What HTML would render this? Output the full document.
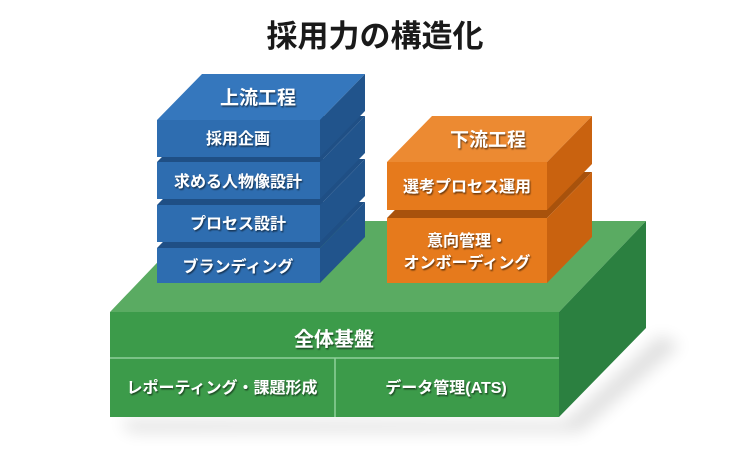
<!DOCTYPE html>
<html><head><meta charset="utf-8"><style>
html,body{margin:0;padding:0;background:#fff;}
svg text{font-family:"Liberation Sans","Noto Sans CJK JP",sans-serif;font-weight:bold;}
.w{fill:#fff;filter:url(#ts);}
</style></head><body>
<svg width="750" height="450" viewBox="0 0 750 450" xmlns="http://www.w3.org/2000/svg">
<defs>
<filter id="ts" x="-10%" y="-30%" width="120%" height="160%"><feDropShadow dx="1" dy="1.5" stdDeviation="0.8" flood-color="#000" flood-opacity="0.55"/></filter>
<filter id="sh" x="-20%" y="-20%" width="140%" height="160%"><feGaussianBlur stdDeviation="8"/></filter>
</defs>
<rect width="750" height="450" fill="#fff"/>
<text x="375" y="47" text-anchor="middle" font-size="31" fill="#1a1a1a">採用力の構造化</text>

<polygon points="120,420 565,422 660,335 680,345 580,432 130,432" fill="#000" opacity="0.12" filter="url(#sh)"/>

<polygon points="110,312 197,221 646,221 559,312" fill="#5aab62"/>
<polygon points="559,312 646,221 646,328 559,417" fill="#2b8040"/>
<rect x="110" y="312" width="449" height="105" fill="#3c9b4a"/>
<line x1="110" y1="358" x2="559" y2="358" stroke="#8fd09a" stroke-width="1.5"/>
<line x1="335" y1="358" x2="335" y2="417" stroke="#8fd09a" stroke-width="1.5"/>
<text class="w" x="334" y="346" text-anchor="middle" font-size="20">全体基盤</text>
<text class="w" x="222" y="393" text-anchor="middle" font-size="16">レポーティング・課題形成</text>
<text class="w" x="446" y="393" text-anchor="middle" font-size="16">データ管理(ATS)</text>

<g>
<polygon points="157,248 202,202 365,202 320,248" fill="#1f4f85"/>
<polygon points="320,248 365,202 365,237 320,283" fill="#21548c"/>
<rect x="157" y="248" width="163" height="35" fill="#2e6db0"/>
<text class="w" x="238" y="272" text-anchor="middle" font-size="16">ブランディング</text>

<polygon points="157,205 202,159 365,159 320,205" fill="#1f4f85"/>
<polygon points="320,205 365,159 365,196 320,242" fill="#21548c"/>
<rect x="157" y="205" width="163" height="37" fill="#2e6db0"/>
<text class="w" x="238" y="229" text-anchor="middle" font-size="16">プロセス設計</text>

<polygon points="157,162 202,116 365,116 320,162" fill="#1f4f85"/>
<polygon points="320,162 365,116 365,153 320,199" fill="#21548c"/>
<rect x="157" y="162" width="163" height="37" fill="#2e6db0"/>
<text class="w" x="238" y="187" text-anchor="middle" font-size="16">求める人物像設計</text>

<polygon points="157,120 202,74 365,74 320,120" fill="#3577bd"/>
<polygon points="320,120 365,74 365,111 320,157" fill="#21548c"/>
<rect x="157" y="120" width="163" height="37" fill="#2e6db0"/>
<text class="w" x="258" y="104" text-anchor="middle" font-size="19">上流工程</text>
<text class="w" x="238" y="144" text-anchor="middle" font-size="16">採用企画</text>
</g>

<g>
<polygon points="387,218 432,172 592,172 547,218" fill="#a8520c"/>
<polygon points="547,218 592,172 592,237 547,283" fill="#c9620f"/>
<rect x="387" y="218" width="160" height="65" fill="#e67a1c"/>
<text class="w" x="467" y="246" text-anchor="middle" font-size="16">意向管理・</text>
<text class="w" x="467" y="268" text-anchor="middle" font-size="16">オンボーディング</text>

<polygon points="387,162 432,116 592,116 547,162" fill="#ec8a32"/>
<polygon points="547,162 592,116 592,164 547,210" fill="#c9620f"/>
<rect x="387" y="162" width="160" height="48" fill="#e67a1c"/>
<text class="w" x="488" y="146" text-anchor="middle" font-size="19">下流工程</text>
<text class="w" x="467" y="192" text-anchor="middle" font-size="16">選考プロセス運用</text>
</g>
</svg>
</body></html>
